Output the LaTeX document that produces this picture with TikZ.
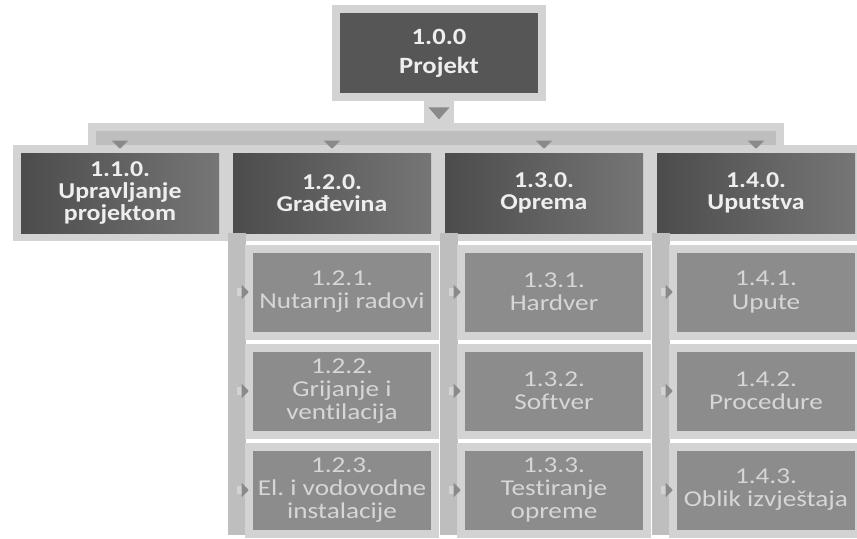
\documentclass[tikz,border=0pt]{standalone}
\usepackage{fontspec}
\setmainfont{Carlito}[FakeStretch=1.14, Ligatures=NoCommon]
\newfontfamily\subfont{Carlito}[FakeStretch=1.2, Ligatures=NoCommon]
\usetikzlibrary{positioning,arrows.meta,decorations.markings}
\frenchspacing
\newlength\px \setlength\px{0.75pt}
\definecolor{topfill}{HTML}{565656}
\definecolor{mainleft}{HTML}{4C4C4C}
\definecolor{mainright}{HTML}{767676}
\definecolor{subfill}{HTML}{8C8C8C}
\definecolor{subtext}{HTML}{D6D6D6}
\definecolor{maintext}{HTML}{EEEEEE}
\definecolor{mattegray}{HTML}{D3D3D3}
\definecolor{railgray}{HTML}{BEBEBE}
\definecolor{tipgray}{HTML}{8A8A8A}

\begin{document}
\begin{tikzpicture}[x=0.75pt,y=-0.75pt,
    matte/.style={preaction={draw=mattegray, line width=16\px}},
    topbox/.style={matte, fill=topfill, text=maintext, align=center,
      minimum width=198\px, minimum height=80\px, inner sep=0pt,
      font=\bfseries\fontsize{17.5}{21.5}\selectfont},
    mainbox/.style={matte, left color=mainleft, right color=mainright, text=maintext,
      align=center, minimum width=198\px, minimum height=80\px, inner sep=0pt,
      font=\bfseries\fontsize{17}{16.8}\selectfont},
    subbox/.style={matte, fill=subfill, text=subtext, align=center,
      minimum width=178\px, minimum height=79\px, inner sep=0pt,
      font=\subfont\fontsize{17}{17.3}\selectfont},
    barbox/.style={matte, fill=railgray, minimum width=680\px, minimum height=16\px, inner sep=0pt},
    rail/.style={draw=railgray, line width=18\px},
    stem/.style={draw=mattegray, line width=30\px, postaction={decorate},
      decoration={markings, mark=at position 0.7 with
        {\arrow{Triangle[length=9pt, width=15pt, color=tipgray]}}}},
    drop/.style={draw=railgray, line width=8\px, shorten >=4\px,
      -{Triangle[length=6pt, width=12pt, color=tipgray]}},
    tick/.style={draw=mattegray, line width=8\px, shorten >=4\px,
      -{Triangle[length=5.25pt, width=10.5pt, color=tipgray]}}]
    \useasboundingbox (0,0) rectangle (857,539);
    \def\cw{212}
    % bar and rails
    \node[barbox] (bar) at (436,139) {};
    \coordinate (endB) at (237,535);
    \coordinate (endC) at (449,535);
    \coordinate (endD) at (661,535);
    % top
    \node[topbox] (top) at (439,53) {1.0.0\\Projekt};
    \draw[stem] (top.south) -- (top.south |- bar.north);
    % level 1
    \node[mainbox] (m1) at (120,193) {1.1.0.\\Upravljanje\\projektom};
    \node[mainbox] (m2) at (120+\cw,193) {1.2.0.\\Građevina};
    \node[mainbox] (m3) at (120+2*\cw,193) {1.3.0.\\Oprema};
    \node[mainbox] (m4) at (120+3*\cw,193) {1.4.0.\\Uputstva};
    \draw[rail] (m2.south -| endB) -- (endB);
    \draw[rail] (m3.south -| endC) -- (endC);
    \draw[rail] (m4.south -| endD) -- (endD);
    % level 2
    \node[subbox] (s21) at (130+\cw,292) {1.2.1.\\Nutarnji radovi};
    \node[subbox] (s22) at (130+\cw,391) {1.2.2.\\Grijanje i\\ventilacija};
    \node[subbox] (s23) at (130+\cw,490) {1.2.3.\\El. i vodovodne\\instalacije};
    \node[subbox] (s31) at (130+2*\cw,292) {1.3.1.\\Hardver};
    \node[subbox] (s32) at (130+2*\cw,391) {1.3.2.\\Softver};
    \node[subbox] (s33) at (130+2*\cw,490) {1.3.3.\\Testiranje\\opreme};
    \node[subbox] (s41) at (130+3*\cw,292) {1.4.1.\\Upute};
    \node[subbox] (s42) at (130+3*\cw,391) {1.4.2.\\Procedure};
    \node[subbox] (s43) at (130+3*\cw,490) {1.4.3.\\Oblik izvještaja};
    % arrows
    \foreach \m in {m1,m2,m3,m4}
      \draw[drop] (bar.center -| \m.north) -- (\m.north);
    \foreach \s in {s21,s22,s23}
      \draw[tick] (\s.west -| endB) -- (\s.west);
    \foreach \s in {s31,s32,s33}
      \draw[tick] (\s.west -| endC) -- (\s.west);
    \foreach \s in {s41,s42,s43}
      \draw[tick] (\s.west -| endD) -- (\s.west);
\end{tikzpicture}
\end{document}
